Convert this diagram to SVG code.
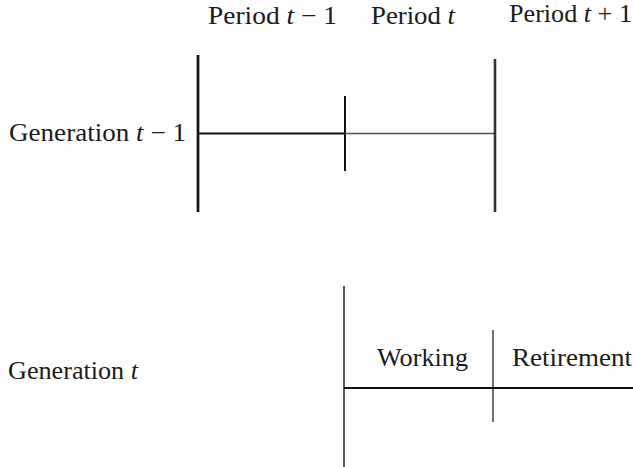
<svg xmlns="http://www.w3.org/2000/svg" width="633" height="467" viewBox="0 0 633 467">
<style>
text{font-family:'Liberation Serif','DejaVu Serif',serif;font-size:25px;fill:#1a1a1a}
.m{font-style:italic}
line{stroke-linecap:butt}
.thick{stroke:#111;stroke-width:2.7}
.med{stroke:#111;stroke-width:2}
.thin{stroke:#222;stroke-width:1.5}
</style>
<rect width="633" height="467" fill="#fff"/>
<g id="labels-periods">
<text x="208" y="24" textLength="129" lengthAdjust="spacingAndGlyphs">Period <tspan class="m">t</tspan> − 1</text>
<text x="371" y="24" textLength="84" lengthAdjust="spacingAndGlyphs">Period <tspan class="m">t</tspan></text>
<text x="509" y="22" textLength="123" lengthAdjust="spacingAndGlyphs">Period <tspan class="m">t</tspan> + 1</text>
</g>
<g id="gen-t-minus-1">
<text x="9" y="141" textLength="177" lengthAdjust="spacingAndGlyphs">Generation <tspan class="m">t</tspan> − 1</text>
</g>
<g id="gen-t">
<text x="8" y="379" textLength="130" lengthAdjust="spacingAndGlyphs">Generation <tspan class="m">t</tspan></text>
<text x="377" y="366" textLength="91" lengthAdjust="spacingAndGlyphs">Working</text>
<text x="512" y="366" textLength="120" lengthAdjust="spacingAndGlyphs">Retirement</text>
</g>
<g id="connectors">
<line class="thick" x1="198" y1="55" x2="198" y2="212"/>
<line class="med" x1="198" y1="133.5" x2="345" y2="133.5"/>
<line class="med" x1="345" y1="96" x2="345" y2="171"/>
<line x1="345" y1="133.5" x2="495" y2="133.5" stroke="#555" stroke-width="1.5"/>
<line x1="495" y1="59" x2="495" y2="212" stroke="#333" stroke-width="2.6"/>
<line class="thin" x1="344" y1="286" x2="344" y2="467"/>
<line x1="493" y1="330" x2="493" y2="422" stroke="#222" stroke-width="1.3"/>
<line class="med" x1="344" y1="388" x2="633" y2="388" stroke="#222"/>
</g>
</svg>
